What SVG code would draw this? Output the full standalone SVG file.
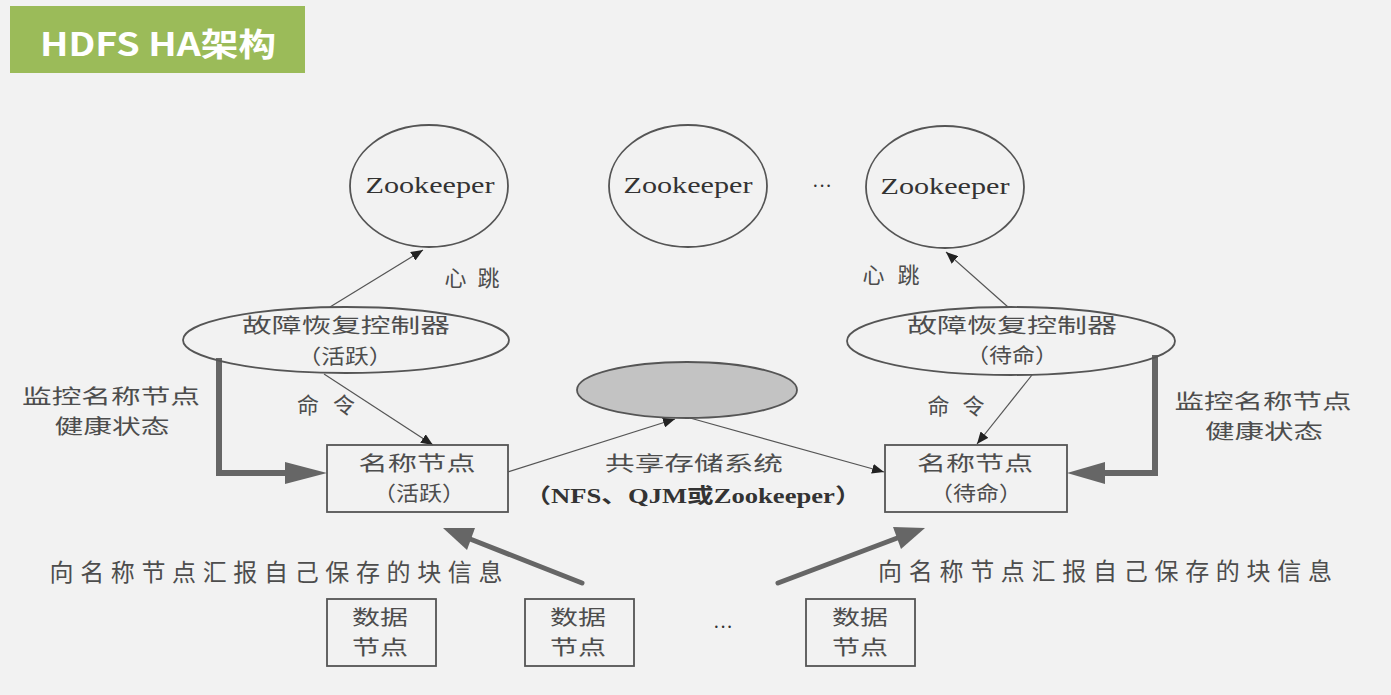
<svg xmlns="http://www.w3.org/2000/svg" width="1391" height="695" viewBox="0 0 1391 695">
<defs>
<marker id="ah" markerUnits="userSpaceOnUse" markerWidth="12" markerHeight="10" refX="12" refY="5" orient="auto">
<path d="M0,0 L12,5 L0,10 z" fill="#222"/>
</marker>
<style>
.t{font-family:"Liberation Serif","Noto Sans CJK SC",serif;fill:#333;text-anchor:middle}
.cn{font-family:"Noto Sans CJK SC","Liberation Serif",serif;fill:#4d4d4d;text-anchor:middle}
.two{font-size:20.5px}
.shape{fill:none;stroke:#555;stroke-width:1.8}
.thin{fill:none;stroke:#555;stroke-width:1.2;marker-end:url(#ah)}
.thick{fill:none;stroke:#666;stroke-width:6;stroke-linejoin:miter}
.diag{fill:none;stroke:#666;stroke-width:5;stroke-linecap:round}
.head{fill:#666}
</style>
</defs>
<rect x="0" y="0" width="1391" height="695" fill="#f2f2f2"/>
<g id="title">
<rect x="10" y="6" width="295" height="67" fill="#9bbb59"/>
<text x="40" y="56" font-family="Noto Sans CJK SC, Liberation Sans, sans-serif" font-weight="bold" font-size="32" fill="#ffffff" textLength="236" lengthAdjust="spacingAndGlyphs">HDFS HA架构</text>
</g>
<g id="connectors">
<path class="thin" d="M330,307 L423,250"/>
<path class="thin" d="M1008,307 L946,252"/>
<path class="thin" d="M324,374 L433,445"/>
<path class="thin" d="M1032,375 L977,444"/>
<path class="thin" d="M508,472 L675,419"/>
<path class="thin" d="M690,418 L884,472"/>
<path class="thick" d="M219,358 V473 H290"/>
<polygon class="head" points="327,473 285,462 285,484"/>
<path class="thick" d="M1155,355 V473 H1100"/>
<polygon class="head" points="1067,473 1105,462 1105,484"/>
<path class="diag" d="M582,583 L465,537"/>
<polygon class="head" points="443,528 475,528 467,550"/>
<path class="diag" d="M778,583 L900,537"/>
<polygon class="head" points="925,528 893,527 901,549"/>
</g>
<g id="zk1"><ellipse class="shape" cx="429" cy="186" rx="79" ry="61"/><text class="t" x="430" y="193" font-size="23" textLength="129" lengthAdjust="spacingAndGlyphs">Zookeeper</text></g>
<g id="zk2"><ellipse class="shape" cx="688" cy="186" rx="79" ry="61"/><text class="t" x="688" y="193" font-size="23" textLength="129" lengthAdjust="spacingAndGlyphs">Zookeeper</text></g>
<g id="zkdots"><text class="t" x="822" y="193" font-size="20">···</text></g>
<g id="zk3"><ellipse class="shape" cx="945" cy="187" rx="79" ry="61"/><text class="t" x="945" y="194" font-size="23" textLength="129" lengthAdjust="spacingAndGlyphs">Zookeeper</text></g>
<g id="fc-active">
<ellipse class="shape" cx="346" cy="340" rx="163" ry="33"/>
<text class="cn two" x="346" y="333" textLength="208" lengthAdjust="spacingAndGlyphs">故障恢复控制器</text>
<text class="cn two" x="345" y="364" textLength="95" lengthAdjust="spacingAndGlyphs">（活跃）</text>
</g>
<g id="fc-standby">
<ellipse class="shape" cx="1011" cy="341" rx="164" ry="34"/>
<text class="cn two" x="1012" y="333" textLength="210" lengthAdjust="spacingAndGlyphs">故障恢复控制器</text>
<text class="cn two" x="1012" y="363" textLength="92" lengthAdjust="spacingAndGlyphs">（待命）</text>
</g>
<g id="labels">
<text class="cn" x="472" y="286" font-size="22" textLength="55">心跳</text>
<text class="cn" x="891" y="283" font-size="22" textLength="57">心跳</text>
<text class="cn" x="326" y="413" font-size="22" textLength="58">命令</text>
<text class="cn" x="956" y="414" font-size="22" textLength="57">命令</text>
<text class="cn two" x="111" y="404" textLength="178" lengthAdjust="spacingAndGlyphs">监控名称节点</text>
<text class="cn two" x="112" y="434" textLength="115" lengthAdjust="spacingAndGlyphs">健康状态</text>
<text class="cn two" x="1263" y="409" textLength="177" lengthAdjust="spacingAndGlyphs">监控名称节点</text>
<text class="cn two" x="1264" y="439" textLength="118" lengthAdjust="spacingAndGlyphs">健康状态</text>
<text class="cn" x="276" y="581" font-size="24" textLength="453">向名称节点汇报自己保存的块信息</text>
<text class="cn" x="1105" y="580" font-size="24" textLength="454">向名称节点汇报自己保存的块信息</text>
</g>
<g id="shared-storage">
<ellipse cx="687" cy="390" rx="110" ry="28" fill="#c3c3c3" stroke="#555" stroke-width="1.8"/>
<text class="cn two" x="694" y="471" textLength="178" lengthAdjust="spacingAndGlyphs">共享存储系统</text>
<text class="t" x="693" y="503" font-size="20.5" font-weight="bold" fill="#444" textLength="337" lengthAdjust="spacingAndGlyphs">（NFS、QJM或Zookeeper）</text>
</g>
<g id="nn-active">
<rect class="shape" x="327" y="445" width="181" height="67"/>
<text class="cn two" x="417" y="471" textLength="117" lengthAdjust="spacingAndGlyphs">名称节点</text>
<text class="cn two" x="419" y="501" textLength="92" lengthAdjust="spacingAndGlyphs">（活跃）</text>
</g>
<g id="nn-standby">
<rect class="shape" x="885" y="445" width="182" height="67"/>
<text class="cn two" x="975" y="471" textLength="116" lengthAdjust="spacingAndGlyphs">名称节点</text>
<text class="cn two" x="976" y="501" textLength="92" lengthAdjust="spacingAndGlyphs">（待命）</text>
</g>
<g id="dn1"><rect class="shape" x="327" y="599" width="109" height="67"/><text class="cn two" x="380" y="625" textLength="56" lengthAdjust="spacingAndGlyphs">数据</text><text class="cn two" x="380" y="655" textLength="56" lengthAdjust="spacingAndGlyphs">节点</text></g>
<g id="dn2"><rect class="shape" x="525" y="599" width="109" height="67"/><text class="cn two" x="578" y="625" textLength="56" lengthAdjust="spacingAndGlyphs">数据</text><text class="cn two" x="578" y="655" textLength="56" lengthAdjust="spacingAndGlyphs">节点</text></g>
<g id="dndots"><text class="t" x="723" y="634" font-size="20">···</text></g>
<g id="dn3"><rect class="shape" x="806" y="599" width="109" height="67"/><text class="cn two" x="860" y="625" textLength="56" lengthAdjust="spacingAndGlyphs">数据</text><text class="cn two" x="860" y="655" textLength="56" lengthAdjust="spacingAndGlyphs">节点</text></g>
</svg>
